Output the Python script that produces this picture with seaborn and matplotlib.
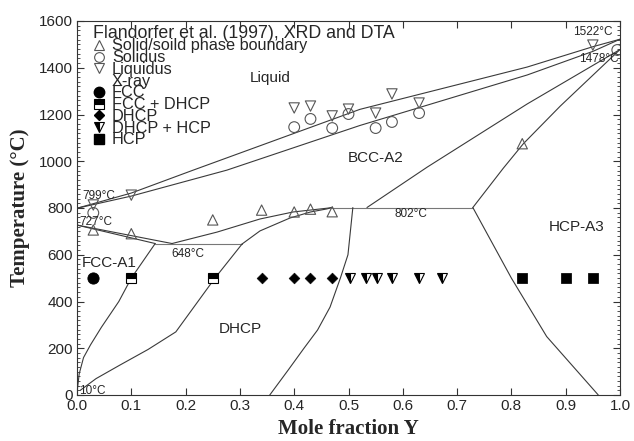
import numpy as np
import pandas as pd
import matplotlib
matplotlib.use("Agg")
import matplotlib.pyplot as plt
from matplotlib.lines import Line2D
import seaborn as sns

# ---------------- data ----------------
# phase boundaries (mole fraction Y, temperature °C)
liq_x = [0.0, 0.1, 0.214, 0.521, 0.829, 0.95, 1.0]
liq_t = [799, 864, 962, 1222, 1403, 1490, 1522]
sol_x = [0.0, 0.1, 0.276, 0.521, 0.829, 0.95, 1.0]
sol_t = [799, 851, 962, 1153, 1369, 1470, 1522]
bccA_x = [0.534, 0.645, 0.829, 1.0]
bccA_t = [802, 975, 1245, 1478]
bccB_x = [0.729, 0.785, 0.822, 0.89, 1.0]
bccB_t = [802, 970, 1075, 1236, 1478]
fcc1_x = [0.0, 0.144]
fcc1_t = [727, 648]
fcc2_x = [0.0, 0.175]
fcc2_t = [727, 648]
eut_x = [0.144, 0.304]
eut_t = [648, 648]
per_x = [0.47, 0.729]
per_t = [802, 802]
bccC_x = [0.175, 0.258, 0.337, 0.398, 0.46, 0.47]
bccC_t = [648, 697, 753, 783, 799, 802]
dhcpC_x = [0.304, 0.337, 0.392, 0.43, 0.46, 0.47]
dhcpC_t = [646, 702, 757, 783, 796, 802]
fccS_x = [0.144, 0.1, 0.077, 0.045, 0.025, 0.012, 0.004, 0.0]
fccS_t = [648, 500, 400, 290, 215, 160, 90, 10]
dhcpL_x = [0.304, 0.254, 0.182, 0.131, 0.079, 0.035, 0.006]
dhcpL_t = [646, 500, 270, 195, 128, 70, 20]
dhcpR_x = [0.508, 0.499, 0.485, 0.466, 0.443, 0.418, 0.389, 0.355]
dhcpR_t = [802, 600, 500, 376, 278, 200, 107, 0]
hcpL_x = [0.729, 0.80, 0.865, 0.96]
hcpL_t = [802, 500, 250, 0]

# DTA data
ss_x = [0.03, 0.10, 0.25, 0.34, 0.40, 0.43, 0.47, 0.82]
ss_t = [706, 690, 749, 791, 783, 795, 784, 1075]
solid_x = [0.03, 0.40, 0.43, 0.47, 0.50, 0.55, 0.58, 0.63, 0.995]
solid_t = [779, 1146, 1181, 1142, 1202, 1142, 1168, 1206, 1476]
liqd_x = [0.03, 0.10, 0.40, 0.43, 0.47, 0.50, 0.55, 0.58, 0.63, 0.95]
liqd_t = [813, 855, 1228, 1236, 1194, 1223, 1206, 1288, 1249, 1497]

# X-ray data at 500 °C
xr_t = 500
fcc_x = [0.03]
fccdhcp_x = [0.10, 0.25]
dhcp_x = [0.34, 0.40, 0.43, 0.47]
dhcphcp_x = [0.503, 0.532, 0.552, 0.58, 0.63, 0.672]
hcp_x = [0.82, 0.90, 0.95]

xticks = [0.0, 0.1, 0.2, 0.3, 0.4, 0.5, 0.6, 0.7, 0.8, 0.9, 1.0]
yticks = [0, 200, 400, 600, 800, 1000, 1200, 1400, 1600]

# ---------------- style ----------------
sns.set_theme(style="ticks")
plt.rcParams["font.family"] = ["Liberation Sans", "DejaVu Sans"]
plt.rcParams["xtick.direction"] = "in"
plt.rcParams["ytick.direction"] = "in"

fig = plt.figure(figsize=(6.34, 4.41), dpi=100)
ax = fig.add_axes([77/634, 1-395/441, 543/634, 374/441])

lc = "#3a3a3a"
lw = 0.8
for xs, ts, c in [(liq_x, liq_t, lc), (sol_x, sol_t, lc), (bccA_x, bccA_t, lc),
                  (bccB_x, bccB_t, lc), (fcc1_x, fcc1_t, lc), (fcc2_x, fcc2_t, lc),
                  (eut_x, eut_t, "#777777"), (per_x, per_t, "#777777"),
                  (bccC_x, bccC_t, lc), (dhcpC_x, dhcpC_t, lc), (fccS_x, fccS_t, lc),
                  (dhcpL_x, dhcpL_t, lc), (dhcpR_x, dhcpR_t, lc), (hcpL_x, hcpL_t, lc)]:
    sns.lineplot(x=xs, y=ts, sort=False, estimator=None, color=c, lw=lw, ax=ax)

mec = "#555555"
sns.scatterplot(x=ss_x, y=ss_t, marker="^", s=55, facecolor="none", edgecolor=mec,
                linewidth=0.8, ax=ax, zorder=3)
sns.scatterplot(x=solid_x, y=solid_t, marker="o", s=60, facecolor="none", edgecolor=mec,
                linewidth=0.8, ax=ax, zorder=3)
sns.scatterplot(x=liqd_x, y=liqd_t, marker="v", s=55, facecolor="none", edgecolor=mec,
                linewidth=0.8, ax=ax, zorder=3)

sns.scatterplot(x=fcc_x, y=[xr_t]*len(fcc_x), marker="o", s=65, color="black",
                edgecolor="black", ax=ax, zorder=3)
ax.plot(fccdhcp_x, [xr_t]*len(fccdhcp_x), ls="none", marker="s", ms=6.5, fillstyle="top",
        color="black", markerfacecoloralt="white", mec="black", mew=0.8, zorder=3)
sns.scatterplot(x=dhcp_x, y=[xr_t]*len(dhcp_x), marker="D", s=30, color="black",
                edgecolor="black", ax=ax, zorder=3)
ax.plot(dhcphcp_x, [xr_t]*len(dhcphcp_x), ls="none", marker="v", ms=7.5, fillstyle="left",
        color="black", markerfacecoloralt="white", mec="black", mew=0.8, zorder=3)
sns.scatterplot(x=hcp_x, y=[xr_t]*len(hcp_x), marker="s", s=45, color="black",
                edgecolor="black", ax=ax, zorder=3)

# ---------------- axes ----------------
ax.set_xlim(0, 1.0)
ax.set_ylim(0, 1600)
ax.set_xticks(xticks)
ax.set_xticklabels([f"{v:.1f}" for v in xticks])
ax.set_yticks(yticks)
ax.set_yticks(np.arange(0, 1601, 20), minor=True)
ax.tick_params(axis="both", which="major", labelsize=11, length=5, width=0.8,
               top=True, right=True, color="#333333", pad=3)
ax.tick_params(axis="y", which="minor", length=2.5, width=0.6, right=True, color="#333333")
ax.tick_params(axis="x", which="minor", bottom=False, top=False)
for s in ax.spines.values():
    s.set_linewidth(0.8)
    s.set_color("#333333")

ax.set_xlabel("Mole fraction Y", fontsize=15, fontweight="bold",
              family=["Liberation Serif", "DejaVu Serif"], labelpad=4)
ax.set_ylabel("Temperature (°C)", fontsize=15, fontweight="bold",
              family=["Liberation Serif", "DejaVu Serif"], labelpad=6)

# ---------------- annotations ----------------
ax.text(0.355, 1356, "Liquid", fontsize=11, ha="center", va="center")
ax.text(0.55, 1014, "BCC-A2", fontsize=11, ha="center", va="center")
ax.text(0.06, 565, "FCC-A1", fontsize=11, ha="center", va="center")
ax.text(0.30, 282, "DHCP", fontsize=11, ha="center", va="center")
ax.text(0.92, 719, "HCP-A3", fontsize=11, ha="center", va="center")
ax.text(0.173, 603, "648°C", fontsize=8.5, ha="left", va="center")
ax.text(0.615, 774, "802°C", fontsize=8.5, ha="center", va="center")
ax.text(0.009, 851, "799°C", fontsize=8.5, ha="left", va="center")
ax.text(0.005, 740, "727°C", fontsize=8.5, ha="left", va="center")
ax.text(0.987, 1553, "1522°C", fontsize=8.5, ha="right", va="center")
ax.text(0.997, 1437, "1478°C", fontsize=8.5, ha="right", va="center")
ax.text(0.004, 15, "10°C", fontsize=8.5, ha="left", va="center")

# ---------------- legend ----------------
handles = [
    Line2D([], [], ls="none", marker="^", ms=7, mfc="none", mec=mec, mew=0.8),
    Line2D([], [], ls="none", marker="o", ms=7, mfc="none", mec=mec, mew=0.8),
    Line2D([], [], ls="none", marker="v", ms=7, mfc="none", mec=mec, mew=0.8),
    Line2D([], [], ls="none", marker=None),
    Line2D([], [], ls="none", marker="o", ms=7.5, color="black"),
    Line2D([], [], ls="none", marker="s", ms=6.5, fillstyle="top", color="black",
           markerfacecoloralt="white", mew=0.8),
    Line2D([], [], ls="none", marker="D", ms=5.5, color="black"),
    Line2D([], [], ls="none", marker="v", ms=7.5, fillstyle="left", color="black",
           markerfacecoloralt="white", mew=0.8),
    Line2D([], [], ls="none", marker="s", ms=6.5, color="black"),
]
labels = ["Solid/soild phase boundary", "Solidus", "Liquidus", "X-ray", "FCC",
          "FCC + DHCP", "DHCP", "DHCP + HCP", "HCP"]
leg = ax.legend(handles, labels, loc="upper left", bbox_to_anchor=(0.03, 0.99),
                frameon=False, fontsize=11.7, labelspacing=-0.2, handlelength=0.7,
                handletextpad=0.45, borderpad=0.0, borderaxespad=0.0,
                title="Flandorfer et al. (1997), XRD and DTA",
                title_fontsize=12.8, alignment="left")

fig.savefig("out.png", dpi=100)
